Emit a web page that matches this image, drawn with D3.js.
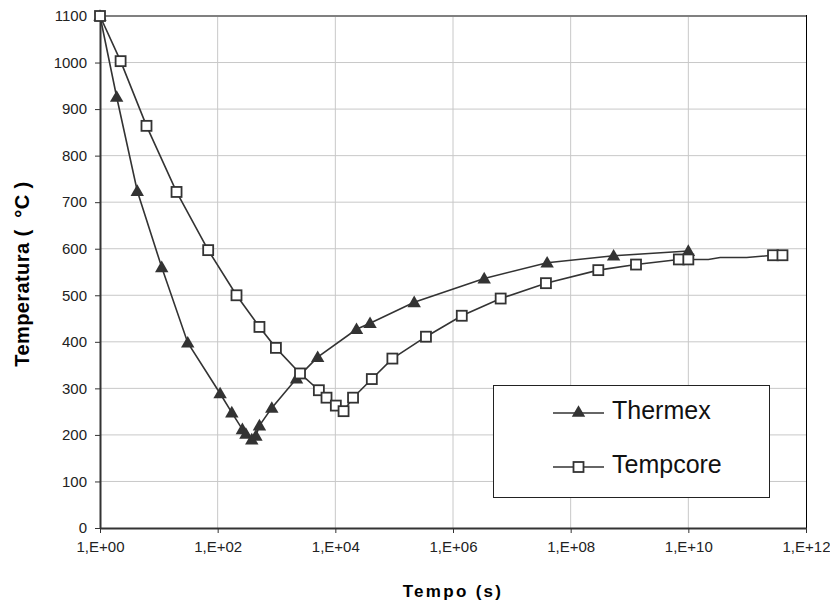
<!DOCTYPE html>
<html>
<head>
<meta charset="utf-8">
<script src="https://cdn.jsdelivr.net/npm/d3@7"></script>
<style>
  body { margin: 0; background: #fff; }
  text { font-family: "Liberation Sans", Arial, sans-serif; }
</style>
</head>
<body>
<div id="grafico"></div>
<script>
// Datos (tiempo en s, temperatura en C)
const thermexTempo = [1, 1.92, 4.3, 11.2, 31, 110, 174, 263, 302, 380, 447, 513, 832, 2190, 5010,
  22900, 38900, 2.19e5, 3.39e6, 3.98e7, 5.37e8, 1e10]
const thermexTemp = [1100, 926, 724, 560, 398, 289, 248, 212, 202, 190, 198, 220, 258, 321, 367,
  427, 440, 485, 536, 570, 585, 595]

const tempcoreTempo = [1, 2.24, 6.17, 20, 69, 209, 513, 977, 2510, 5250, 7080, 10200, 13800, 20000,
  41700, 93300, 3.47e5, 1.41e6, 6.46e6, 3.8e7, 2.95e8, 1.29e9, 6.9e9, 1e10, 2.75e11, 3.98e11]
const tempcoreTemp = [1100, 1003, 864, 722, 597, 500, 432, 387, 332, 296, 280, 263, 251, 280,
  320, 364, 411, 456, 493, 526, 554, 566, 577, 577, 586, 586]

// puntos de la curva sin marcador (cola de Tempcore)
const tempcoreLineaTempo = [2.19e10, 3.47e10, 9.8e10]
const tempcoreLineaTemp = [577, 581, 581]

const xTicks = [1e0, 1e2, 1e4, 1e6, 1e8, 1e10, 1e12]
const yTicks = d3.range(0, 1101, 100)

const series = ["Thermex", "Tempcore"]

const draw = () => {
  const ancho = 830, alto = 606
  const izq = 100, der = 806, arriba = 16, abajo = 528
  const fuenteEstrecha = "'Liberation Sans Narrow', 'Arial Narrow', 'Liberation Sans', Arial, sans-serif"

  const svg = d3.select("#grafico")
    .append("svg")
    .attr("width", ancho)
    .attr("height", alto)

  const x = d3.scaleLog().domain([1, 1e12]).range([izq, der])
  const y = d3.scaleLinear().domain([0, 1100]).range([abajo, arriba])

  // Rejilla
  svg.append("g")
    .selectAll("line")
    .data(xTicks.slice(1, -1))
    .join("line")
    .attr("x1", d => x(d)).attr("x2", d => x(d))
    .attr("y1", arriba).attr("y2", abajo)
    .attr("stroke", "#c8c8c8")
    .attr("stroke-width", 1)

  svg.append("g")
    .selectAll("line")
    .data(yTicks.slice(1, -1))
    .join("line")
    .attr("x1", izq).attr("x2", der)
    .attr("y1", d => y(d)).attr("y2", d => y(d))
    .attr("stroke", "#c8c8c8")
    .attr("stroke-width", 1)

  // Marco superior y derecho
  svg.append("line")
    .attr("x1", izq).attr("x2", der)
    .attr("y1", y(1100)).attr("y2", y(1100))
    .attr("stroke", "#808080").attr("stroke-width", 2)
  svg.append("line")
    .attr("x1", der + 0.5).attr("x2", der + 0.5)
    .attr("y1", arriba - 1).attr("y2", abajo)
    .attr("stroke", "#000").attr("stroke-width", 1)

  // Ejes
  const ejeX = svg.append("g")
    .attr("transform", `translate(0,${abajo})`)
    .call(d3.axisBottom(x)
      .tickValues(xTicks)
      .tickSize(5)
      .tickSizeOuter(0)
      .tickPadding(8)
      .tickFormat(d => "1,E+" + String(Math.round(Math.log10(d))).padStart(2, "0")))

  const ejeY = svg.append("g")
    .attr("transform", `translate(${izq},0)`)
    .call(d3.axisLeft(y)
      .tickValues(yTicks)
      .tickSize(5)
      .tickSizeOuter(0)
      .tickPadding(8)
      .tickFormat(d3.format("d")))

  ;[ejeX, ejeY].forEach(g => {
    g.select(".domain").attr("stroke", "#333").attr("stroke-width", 2)
    g.selectAll(".tick line").attr("stroke", "#333").attr("stroke-width", 1)
    g.selectAll(".tick text")
      .attr("fill", "#222")
      .style("font-size", "15px")
      .style("font-family", fuenteEstrecha)
  })

  // Titulos
  svg.append("text")
    .attr("x", 453)
    .attr("y", 597)
    .attr("text-anchor", "middle")
    .style("font-size", "17px")
    .style("font-weight", "bold")
    .style("letter-spacing", "2.3px")
    .text("Tempo (s)")

  svg.append("text")
    .attr("transform", "translate(29,274) rotate(-90)")
    .attr("text-anchor", "middle")
    .style("font-size", "20px")
    .style("font-weight", "bold")
    .style("letter-spacing", "0.4px")
    .style("white-space", "pre")
    .text("Temperatura (  \u00B0C )")

  // Lineas
  const linea = d3.line()
    .x(d => x(d[0]))
    .y(d => y(d[1]))

  const thermex = thermexTempo.map((t, i) => [t, thermexTemp[i]])
  const tempcore = tempcoreTempo.map((t, i) => [t, tempcoreTemp[i]])
  const tempcoreLinea = tempcore
    .concat(tempcoreLineaTempo.map((t, i) => [t, tempcoreLineaTemp[i]]))
    .sort((a, b) => a[0] - b[0])

  const tri = d3.symbol().type(d3.symbolTriangle).size(78)

  svg.append("path")
    .datum(thermex)
    .attr("d", linea)
    .attr("fill", "none")
    .attr("stroke", "#333")
    .attr("stroke-width", 1.6)

  svg.append("g")
    .selectAll("path")
    .data(thermex)
    .join("path")
    .attr("d", tri)
    .attr("transform", d => `translate(${x(d[0])},${y(d[1]) + 1})`)
    .attr("fill", "#333")

  svg.append("path")
    .datum(tempcoreLinea)
    .attr("d", linea)
    .attr("fill", "none")
    .attr("stroke", "#333")
    .attr("stroke-width", 1.6)

  svg.append("g")
    .selectAll("rect")
    .data(tempcore)
    .join("rect")
    .attr("x", d => x(d[0]) - 5)
    .attr("y", d => y(d[1]) - 5)
    .attr("width", 10)
    .attr("height", 10)
    .attr("fill", "#fff")
    .attr("stroke", "#333")
    .attr("stroke-width", 1.8)

  // Leyenda
  const ley = svg.append("g")
  ley.append("rect")
    .attr("x", 493.5).attr("y", 385.5)
    .attr("width", 276).attr("height", 112)
    .attr("fill", "#fff")
    .attr("stroke", "#222")
    .attr("stroke-width", 1)

  const filas = [413, 467]
  series.forEach((s, i) => {
    const cy = filas[i]
    ley.append("line")
      .attr("x1", 553).attr("x2", 604)
      .attr("y1", cy).attr("y2", cy)
      .attr("stroke", "#333").attr("stroke-width", 1.6)
    if (i === 0) {
      ley.append("path")
        .attr("d", tri)
        .attr("transform", `translate(578.5,${cy})`)
        .attr("fill", "#333")
    } else {
      ley.append("rect")
        .attr("x", 573.5).attr("y", cy - 5)
        .attr("width", 10).attr("height", 10)
        .attr("fill", "#fff")
        .attr("stroke", "#333").attr("stroke-width", 1.8)
    }
    ley.append("text")
      .attr("x", 612)
      .attr("y", cy + 6)
      .style("font-size", "25px")
      .style("font-family", fuenteEstrecha)
      .attr("fill", "#111")
      .text(s)
  })
}

draw()
</script>
</body>
</html>
